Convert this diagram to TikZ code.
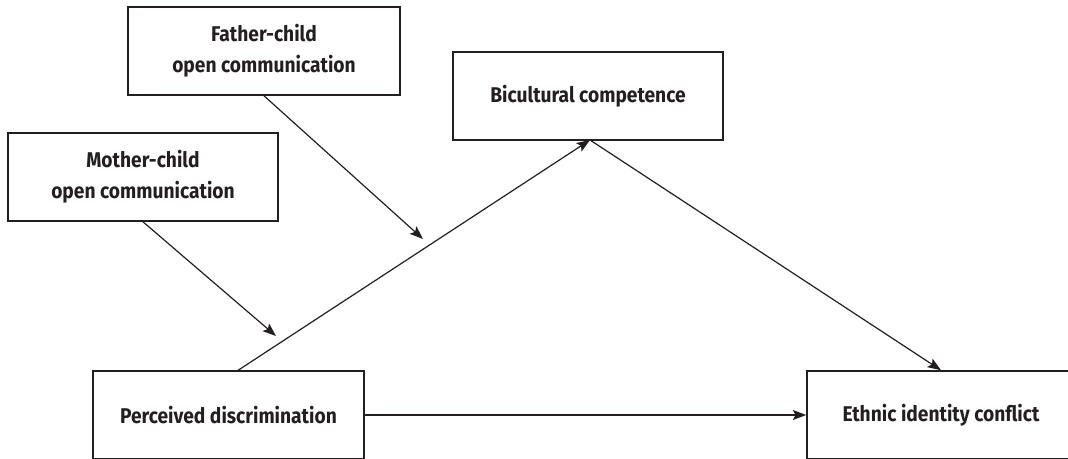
\documentclass[tikz,border=0pt]{standalone}
\usepackage{fontspec}
\setmainfont{Fira Sans}[FakeStretch=0.9]
\usetikzlibrary{arrows.meta}
\definecolor{ink}{HTML}{231F20}
\begin{document}
\begin{tikzpicture}[x=0.75pt,y=-0.75pt,
  box/.style={draw=ink, line width=1.2pt, inner sep=0pt, minimum height=66pt,
    align=center, text=ink, font=\bfseries\fontsize{16}{23.25}\selectfont},
  link/.style={draw=ink, line width=0.9pt, -{Stealth[length=10pt,width=7.5pt,inset=2pt]}},
  plain/.style={draw=ink, line width=0.9pt}]
\useasboundingbox (0,0) rectangle (1068,458);
\clip (0,0) rectangle (1068,458);
\node[box, minimum width=204pt] (father) at (264,51) {Father-child\\open communication};
\node[box, minimum width=202.5pt] (mother) at (143,177) {Mother-child\\open communication};
\node[box, minimum width=202.5pt] (bic) at (588,96) {Bicultural competence};
\node[box, minimum width=203pt] (perc) at (228.5,415) {Perceived discrimination};
\node[box, minimum width=201pt] (eth) at (941,415) {Ethnic identity conflict};
\coordinate (pstart) at (237,371);
\coordinate (apex) at (590,140);
\coordinate (fend) at (423,239);
\coordinate (mend) at (276,336);
\draw[link] (pstart) -- (apex);
\draw[link] (apex) -- (eth.north);
\draw[link] (perc.east) -- (eth.west);
\draw[link] (father.south) -- (fend);
\draw[link] (mother.south) -- (mend);
\end{tikzpicture}
\end{document}
